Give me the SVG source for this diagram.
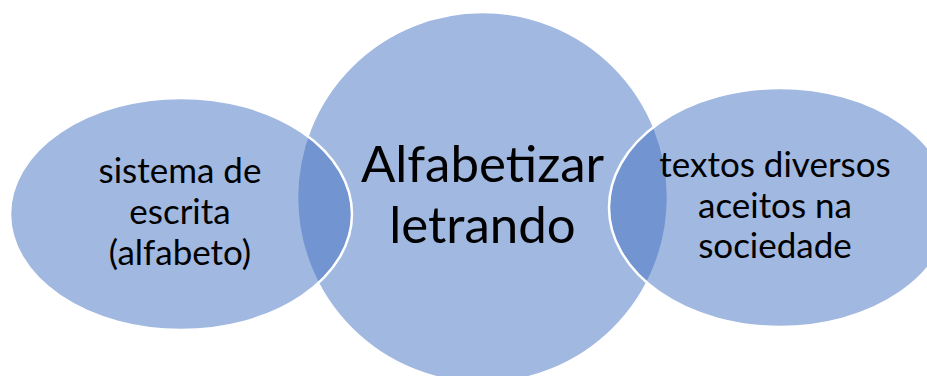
<svg xmlns="http://www.w3.org/2000/svg" width="927" height="376" viewBox="0 0 927 376">
<style>
.n{fill:#4472C4;fill-opacity:0.5;stroke:#FFFFFF;stroke-width:2.5}
.t{font-family:Lato,"Open Sans","Liberation Sans",sans-serif;fill:#000000;text-anchor:middle}
.s{font-size:35px}
.b{font-size:51px}
</style>
<rect width="927" height="376" fill="#FFFFFF"/>
<g id="node-center">
<circle class="n" cx="482.5" cy="197.5" r="185.5"/>
</g>
<g id="node-left">
<ellipse class="n" cx="181" cy="214" rx="171" ry="116"/>
</g>
<g id="node-right">
<ellipse class="n" cx="780" cy="207.5" rx="171" ry="119.5"/>
</g>
<g id="labels">
<text class="t s" x="180" y="183">sistema de</text>
<text class="t s" x="180" y="224">escrita</text>
<text class="t s" x="180" y="265">(alfabeto)</text>
<text class="t b" x="482.5" y="182">Alfabetizar</text>
<text class="t b" x="482.5" y="243">letrando</text>
<text class="t s" x="775" y="177">textos diversos</text>
<text class="t s" x="775" y="218">aceitos na</text>
<text class="t s" x="775" y="258">sociedade</text>
</g>
</svg>
